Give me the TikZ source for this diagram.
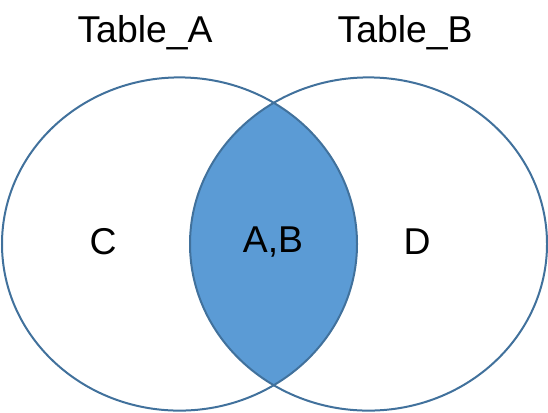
\documentclass[tikz,border=0pt]{standalone}
\usepackage{fontspec}
\setmainfont{Liberation Sans}
\usepackage{xcolor}
\usetikzlibrary{positioning}
\definecolor{setfill}{HTML}{5B9BD5}
\definecolor{setline}{HTML}{41719C}
\begin{document}
\begin{tikzpicture}[x=0.75pt, y=-0.75pt,
set/.style={draw=setline, line width=1.5pt},
lbl/.style={font=\fontsize{28}{31}\selectfont, text=black, inner sep=0pt}
]
\useasboundingbox (0,0) rectangle (548,412);
% intersection
\begin{scope}
\clip (179.5,244) ellipse [x radius=177.5, y radius=166.6];
\fill[setfill] (368.5,244) ellipse [x radius=178.5, y radius=166.6];
\end{scope}
\draw[set] (179.5,244) ellipse [x radius=177.5, y radius=166.6];
\draw[set] (368.5,244) ellipse [x radius=178.5, y radius=166.6];
\node[lbl] (ta) at (145,33) {Table\_A};
\node[lbl] (tb) at (405,33) {Table\_B};
\node[lbl] (c) at (103,242) {C};
\node[lbl] (ab) at (273,242) {A,B};
\node[lbl] (d) at (417,242) {D};
\end{tikzpicture}
\end{document}
